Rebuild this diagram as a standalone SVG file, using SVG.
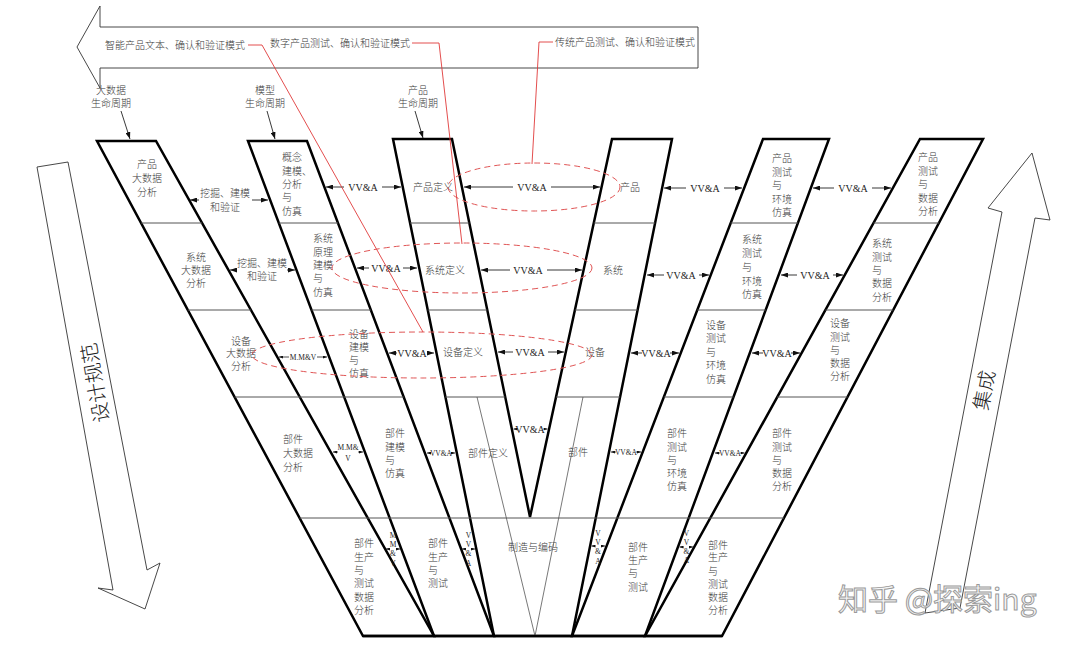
<svg xmlns="http://www.w3.org/2000/svg" width="1080" height="645" viewBox="0 0 1080 645">
<style>
.cn{font-family:"Liberation Serif","Noto Sans CJK SC",serif;font-size:10px;fill:#3a3a3a;font-weight:300;dominant-baseline:central}
.m{text-anchor:middle}
.v{font-family:"Liberation Serif",serif;font-size:10px;fill:#222;text-anchor:middle;dominant-baseline:central}
.vs{font-size:7.5px}
.vt{font-size:7.5px}
.strip{fill:none;stroke:#000;stroke-width:2.5}
.row{fill:none;stroke:#555;stroke-width:1}
.thin{fill:none;stroke:#555;stroke-width:0.8}
.conn{stroke:#222;stroke-width:0.9;fill:none;marker-end:url(#ah)}
.cs{stroke:#222;stroke-width:0.8;fill:none;marker-end:url(#ahs)}
.red{stroke:#e03a3a;stroke-width:0.9;fill:none}
.ell{stroke:#e05555;stroke-width:1;stroke-dasharray:6 4;fill:none}
.big{fill:#fff;stroke:#333;stroke-width:0.9}
.bt{font-family:"Noto Sans CJK SC",sans-serif;font-size:20px;fill:#222;font-weight:300;text-anchor:middle;dominant-baseline:central}
</style>
<defs>
<marker id="ah" markerUnits="userSpaceOnUse" markerWidth="7" markerHeight="5" refX="7" refY="2.5" orient="auto"><path d="M0,0L7,2.5L0,5z" fill="#111"/></marker>
<marker id="ahs" markerUnits="userSpaceOnUse" markerWidth="4" markerHeight="3" refX="4" refY="1.5" orient="auto"><path d="M0,0L4,1.5L0,3z" fill="#111"/></marker>
</defs>
<rect width="1080" height="645" fill="#fff"/>

<g id="top-arrow">
<polygon class="big" points="698,27 100,27 100,6 77,47 100,88 100,68 698,68"/>
<text class="cn m" x="175" y="45">智能产品文本、确认和验证模式</text>
<text class="cn m" x="340" y="43">数字产品测试、确认和验证模式</text>
<text class="cn m" x="625" y="42">传统产品测试、确认和验证模式</text>
</g>

<g id="lifecycle-labels">
<text class="cn m" x="111" y="90">大数据</text>
<text class="cn m" x="111" y="103">生命周期</text>
<text class="cn m" x="265" y="90">模型</text>
<text class="cn m" x="265" y="103">生命周期</text>
<text class="cn m" x="418" y="90">产品</text>
<text class="cn m" x="418" y="103">生命周期</text>
</g>

<g id="design-arrow">
<polygon class="big" points="37,167 68,162 147,570 160,563 145,609 98,588 113,590"/>
<text class="bt" x="94" y="383" transform="rotate(-100 94 383)">设计规范</text>
</g>

<g id="integration-arrow">
<polygon class="big" points="1032,153 1050,220 1035,218 960,608 925,613 1002,212 988,208"/>
<text class="bt" x="983" y="390" transform="rotate(-79 983 390)">集成</text>
</g>

<g id="strip-bigdata">
<polygon class="strip" points="97,141 156,141 434,636 363,636"/>
<text class="cn m" x="147" y="164">产品</text><text class="cn m" x="147" y="178">大数据</text><text class="cn m" x="147" y="192">分析</text>
<text class="cn m" x="196" y="257">系统</text><text class="cn m" x="196" y="270">大数据</text><text class="cn m" x="196" y="283">分析</text>
<text class="cn m" x="241" y="341">设备</text><text class="cn m" x="241" y="353">大数据</text><text class="cn m" x="241" y="366">分析</text>
<text class="cn" x="283" y="439">部件</text><text class="cn" x="283" y="453">大数据</text><text class="cn" x="283" y="467">分析</text>
<text class="cn" x="354" y="543">部件</text><text class="cn" x="354" y="557">生产</text><text class="cn" x="354" y="570">与</text><text class="cn" x="354" y="583">测试</text><text class="cn" x="354" y="597">数据</text><text class="cn" x="354" y="610">分析</text>
</g>

<g id="strip-model">
<polygon class="strip" points="248,141 307,141 494,636 434,636"/>
<text class="cn" x="282" y="157">概念</text><text class="cn" x="282" y="171">建模、</text><text class="cn" x="282" y="184">分析</text><text class="cn" x="282" y="197">与</text><text class="cn" x="282" y="211">仿真</text>
<text class="cn" x="313" y="238">系统</text><text class="cn" x="313" y="252">原理</text><text class="cn" x="313" y="265">建模</text><text class="cn" x="313" y="278">与</text><text class="cn" x="313" y="292">仿真</text>
<text class="cn" x="349" y="334">设备</text><text class="cn" x="349" y="347">建模</text><text class="cn" x="349" y="360">与</text><text class="cn" x="349" y="373">仿真</text>
<text class="cn" x="385" y="433">部件</text><text class="cn" x="385" y="447">建模</text><text class="cn" x="385" y="460">与</text><text class="cn" x="385" y="473">仿真</text>
<text class="cn" x="428" y="543">部件</text><text class="cn" x="428" y="557">生产</text><text class="cn" x="428" y="570">与</text><text class="cn" x="428" y="583">测试</text>
</g>

<g id="strip-product-v">
<polygon class="strip" points="393,139 452,139 530,517 612,139 672,139 572,636 494,636"/>
<text class="cn m" x="433" y="187">产品定义</text>
<text class="cn m" x="445" y="270">系统定义</text>
<text class="cn m" x="463" y="352">设备定义</text>
<text class="cn m" x="488" y="453">部件定义</text>
<text class="cn m" x="630" y="187">产品</text>
<text class="cn m" x="613" y="270">系统</text>
<text class="cn m" x="595" y="352">设备</text>
<text class="cn m" x="578" y="452">部件</text>
<text class="cn m" x="533" y="547">制造与编码</text>
</g>

<g id="strip-test-env">
<polygon class="strip" points="763,139 829,139 645,636 572,636"/>
<text class="cn" x="772" y="158">产品</text><text class="cn" x="772" y="172">测试</text><text class="cn" x="772" y="185">与</text><text class="cn" x="772" y="199">环境</text><text class="cn" x="772" y="212">仿真</text>
<text class="cn" x="742" y="239">系统</text><text class="cn" x="742" y="253">测试</text><text class="cn" x="742" y="267">与</text><text class="cn" x="742" y="281">环境</text><text class="cn" x="742" y="294">仿真</text>
<text class="cn" x="706" y="325">设备</text><text class="cn" x="706" y="338">测试</text><text class="cn" x="706" y="352">与</text><text class="cn" x="706" y="365">环境</text><text class="cn" x="706" y="379">仿真</text>
<text class="cn" x="667" y="433">部件</text><text class="cn" x="667" y="447">测试</text><text class="cn" x="667" y="460">与</text><text class="cn" x="667" y="473">环境</text><text class="cn" x="667" y="486">仿真</text>
<text class="cn" x="628" y="547">部件</text><text class="cn" x="628" y="560">生产</text><text class="cn" x="628" y="573">与</text><text class="cn" x="628" y="587">测试</text>
</g>

<g id="strip-test-data">
<polygon class="strip" points="920,139 983,139 722,636 645,636"/>
<text class="cn" x="918" y="157">产品</text><text class="cn" x="918" y="171">测试</text><text class="cn" x="918" y="184">与</text><text class="cn" x="918" y="198">数据</text><text class="cn" x="918" y="211">分析</text>
<text class="cn" x="872" y="243">系统</text><text class="cn" x="872" y="257">测试</text><text class="cn" x="872" y="270">与</text><text class="cn" x="872" y="283">数据</text><text class="cn" x="872" y="297">分析</text>
<text class="cn" x="830" y="323">设备</text><text class="cn" x="830" y="337">测试</text><text class="cn" x="830" y="350">与</text><text class="cn" x="830" y="363">数据</text><text class="cn" x="830" y="376">分析</text>
<text class="cn" x="772" y="433">部件</text><text class="cn" x="772" y="447">测试</text><text class="cn" x="772" y="460">与</text><text class="cn" x="772" y="473">数据</text><text class="cn" x="772" y="486">分析</text>
<text class="cn" x="708" y="545">部件</text><text class="cn" x="708" y="557">生产</text><text class="cn" x="708" y="571">与</text><text class="cn" x="708" y="584">测试</text><text class="cn" x="708" y="597">数据</text><text class="cn" x="708" y="610">分析</text>
</g>

<g id="row-dividers">
<path class="row" d="M141.1,223H202.1M278.8,223H338M410.1,223H469.3M593.8,223H655.1M730.7,223H797.9M873.5,223H938.9"/>
<path class="row" d="M187.8,310H250.9M311.5,310H370.8M427.7,310H487.3M574.9,310H637.6M697.3,310H765.7M825.4,310H893.2"/>
<path class="row" d="M234.6,397H403.7M445.4,397H505.2M556,397H620.1M663.9,397H733.5M777.2,397H847.5"/>
<path class="row" d="M299.6,518H783.9"/>
<path class="thin" d="M477,397L535,636M583,397L535,636"/>
<path class="strip" d="M363,636H722"/>
</g>

<g id="ellipses">
<ellipse class="ell" cx="534" cy="187" rx="86" ry="24"/>
<ellipse class="ell" cx="462" cy="268" rx="130" ry="25"/>
<ellipse class="ell" cx="422" cy="355" rx="170" ry="23"/>
</g>

<g id="gap-labels">
<text class="cn m" x="225" y="193">挖掘、建模</text><text class="cn m" x="225" y="207">和验证</text>
<text class="cn m" x="262" y="263">挖掘、建模</text><text class="cn m" x="262" y="276">和验证</text>
<text class="v vs" x="303" y="357">M.M&amp;V</text>
<text class="v vs" x="348" y="447">M.M&amp;</text><text class="v vs" x="348" y="458">V</text>
<text class="v" x="363" y="187">VV&amp;A</text>
<text class="v" x="532" y="187">VV&amp;A</text>
<text class="v" x="705" y="188">VV&amp;A</text>
<text class="v" x="853" y="188">VV&amp;A</text>
<text class="v" x="386" y="268">VV&amp;A</text>
<text class="v" x="528" y="270">VV&amp;A</text>
<text class="v" x="681" y="275">VV&amp;A</text>
<text class="v" x="815" y="275">VV&amp;A</text>
<text class="v" x="412" y="353">VV&amp;A</text>
<text class="v" x="530" y="352">VV&amp;A</text>
<text class="v" x="656" y="353">VV&amp;A</text>
<text class="v" x="777" y="353">VV&amp;A</text>
<text class="v vs" x="441" y="453">VV&amp;A</text>
<text class="v" x="530" y="429">VV&amp;A</text>
<text class="v vs" x="626" y="452">VV&amp;A</text>
<text class="v vs" x="730" y="453">VV&amp;A</text>
<text class="v vt" x="393" y="535">M</text><text class="v vt" x="393" y="544">M</text><text class="v vt" x="393" y="553">&amp;</text><text class="v vt" x="393" y="563">V</text>
<text class="v vt" x="468.5" y="535">V</text><text class="v vt" x="468.5" y="544">V</text><text class="v vt" x="468.5" y="553">&amp;</text><text class="v vt" x="468.5" y="563">A</text>
<text class="v vt" x="598" y="533">V</text><text class="v vt" x="598" y="542">V</text><text class="v vt" x="598" y="551">&amp;</text><text class="v vt" x="598" y="561">A</text>
<text class="v vt" x="686.5" y="533">V</text><text class="v vt" x="686.5" y="542">V</text><text class="v vt" x="686.5" y="551">&amp;</text><text class="v vt" x="686.5" y="560">A</text>
</g>

<g id="connectors">
<path class="conn" d="M121,111L130,139"/>
<path class="conn" d="M267,111L275,139"/>
<path class="conn" d="M415,111L423,138"/>
<path class="conn" d="M199,200H190"/><path class="conn" d="M252,200H268"/>
<path class="conn" d="M344,187H326"/><path class="conn" d="M382,187H401"/>
<path class="conn" d="M513,187H464"/><path class="conn" d="M551,187H600"/>
<path class="conn" d="M686,188H664"/><path class="conn" d="M724,188H742"/>
<path class="conn" d="M834,188H813"/><path class="conn" d="M872,188H891"/>
<path class="conn" d="M237,270H230"/><path class="conn" d="M287,270H295"/>
<path class="conn" d="M369,268H357"/><path class="conn" d="M403,268H417"/>
<path class="conn" d="M510,270H481"/><path class="conn" d="M547,270H582"/>
<path class="conn" d="M664,275H647"/><path class="conn" d="M699,275H709"/>
<path class="conn" d="M797,275H781"/><path class="conn" d="M833,275H843"/>
<path class="cs" d="M289,357H279"/><path class="cs" d="M317,357H327"/>
<path class="conn" d="M397,353H389"/><path class="conn" d="M427,353H434"/>
<path class="conn" d="M513,352H498"/><path class="conn" d="M548,352H564"/>
<path class="conn" d="M642,353H631"/><path class="conn" d="M670,353H679"/>
<path class="conn" d="M763,353H752"/><path class="conn" d="M791,353H800"/>
<path class="cs" d="M338,452H333"/><path class="cs" d="M358,452H363"/>
<path class="cs" d="M431,453H427"/><path class="cs" d="M451,453H455"/>
<path class="cs" d="M517,429H513.5"/><path class="cs" d="M543,429H547.5"/>
<path class="cs" d="M616,452H611"/><path class="cs" d="M636,452H641"/>
<path class="cs" d="M720,453H715"/><path class="cs" d="M740,453H744.5"/>
<path class="cs" d="M390,549H386"/><path class="cs" d="M396,549H400"/>
<path class="cs" d="M465.5,549H462"/><path class="cs" d="M471.5,549H475"/>
<path class="cs" d="M595,546H591.5"/><path class="cs" d="M601,546H605"/>
<path class="cs" d="M683.5,547H679.5"/><path class="cs" d="M689.5,547H693"/>
<path class="red" d="M248,45H262L423,332"/>
<path class="red" d="M412,43H439L462,244"/>
<path class="red" d="M553,42H539L532,164"/>
</g>

<g id="watermark">
<text x="838" y="610" font-family="Noto Sans CJK SC, sans-serif" font-size="30" fill="#f6f6f6" stroke="#9a9a9a" stroke-width="1">知乎 @探索ing</text>
</g>
</svg>
